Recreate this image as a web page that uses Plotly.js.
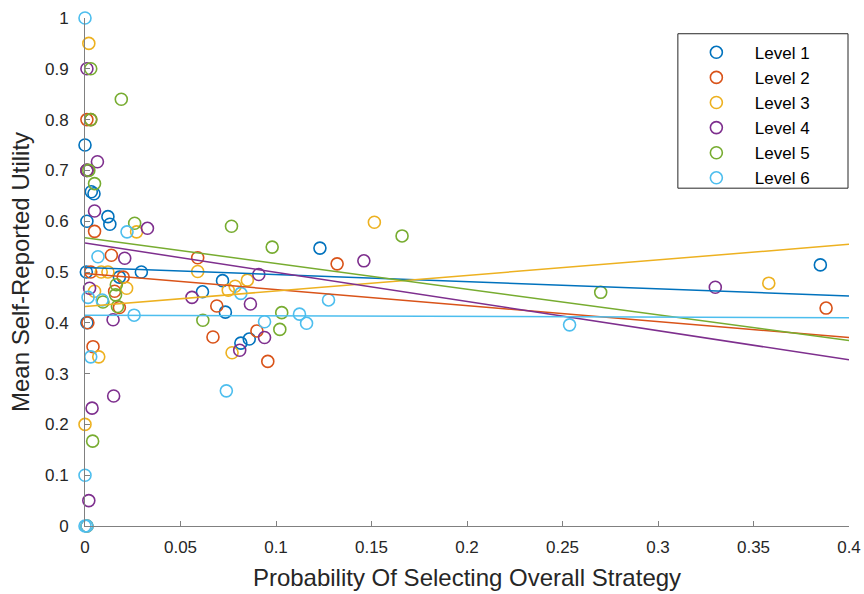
<!DOCTYPE html>
<html>
<head>
<meta charset="utf-8">
<script src="https://cdn.plot.ly/plotly-3.0.1.min.js"></script>
<style>html,body{margin:0;padding:0;background:#fff;}#chart{width:864px;height:594px;}</style>
</head>
<body>
<div id="chart"></div>
<script>
// Data
const levelNames = ["Level 1", "Level 2", "Level 3", "Level 4", "Level 5", "Level 6"];
const levelColors = ["#0072BD", "#D95319", "#EDB120", "#7E2F8E", "#77AC30", "#4DBEEE"];

const x1 = [0, 0.001, 0.0033, 0.0047, 0.001, 0.012, 0.013, 0.0007, 0.0295, 0.018, 0.0615, 0.072, 0.0735, 0.0816, 0.086, 0.123, 0.385, 0.001, 0.001];
const y1 = [0.75, 0.70, 0.658, 0.654, 0.60, 0.609, 0.594, 0.50, 0.50, 0.49, 0.461, 0.483, 0.421, 0.360, 0.368, 0.547, 0.514, 0.40, 0];

const x2 = [0.001, 0.003, 0.001, 0.0015, 0.005, 0.0138, 0.0042, 0.0155, 0.018, 0.059, 0.069, 0.067, 0.090, 0.0957, 0.132, 0.388, 0.003, 0.02];
const y2 = [0.80, 0.80, 0.70, 0.40, 0.58, 0.533, 0.353, 0.462, 0.43, 0.528, 0.433, 0.372, 0.384, 0.324, 0.516, 0.429, 0.50, 0.49];

const x3 = [0.002, 0.0, 0.0072, 0.059, 0.075, 0.0786, 0.085, 0.077, 0.1515, 0.358, 0.027, 0.0218, 0.005, 0.0085, 0.012, 0.001];
const y3 = [0.95, 0.20, 0.333, 0.501, 0.464, 0.472, 0.484, 0.341, 0.598, 0.478, 0.579, 0.468, 0.462, 0.50, 0.50, 0];

const x4 = [0.001, 0.0065, 0.001, 0.005, 0.0024, 0.0037, 0.002, 0.015, 0.0208, 0.0327, 0.056, 0.0866, 0.091, 0.094, 0.081, 0.146, 0.330, 0.0147];
const y4 = [0.90, 0.717, 0.70, 0.62, 0.468, 0.232, 0.05, 0.256, 0.527, 0.586, 0.45, 0.437, 0.495, 0.371, 0.346, 0.522, 0.47, 0.406];

const x5 = [0.003, 0.019, 0.003, 0.002, 0.005, 0.004, 0.026, 0.0767, 0.098, 0.0617, 0.103, 0.102, 0.166, 0.270, 0.0094, 0.0164, 0.017, 0.016];
const y5 = [0.90, 0.84, 0.80, 0.70, 0.674, 0.167, 0.596, 0.59, 0.549, 0.405, 0.42, 0.387, 0.571, 0.46, 0.441, 0.475, 0.432, 0.455];

const x6 = [0, 0, 0, 0.0068, 0.022, 0.009, 0.003, 0.0257, 0.074, 0.0816, 0.094, 0.1123, 0.116, 0.1275, 0.2537, 0.0016, 0.001];
const y6 = [1.0, 0, 0.1, 0.53, 0.579, 0.445, 0.333, 0.415, 0.266, 0.458, 0.402, 0.417, 0.399, 0.445, 0.396, 0.45, 0.0];

// Linear fit coefficients (intercept, slope)
const fitIntercepts = [0.509, 0.497, 0.432, 0.557, 0.5675, 0.415];
const fitSlopes = [-0.14, -0.315, 0.306, -0.575, -0.506, -0.0125];

const xTicks = [0, 0.05, 0.1, 0.15, 0.2, 0.25, 0.3, 0.35, 0.4];
const yTicks = [0, 0.1, 0.2, 0.3, 0.4, 0.5, 0.6, 0.7, 0.8, 0.9, 1];
const xRange = [0, 0.4];
const yRange = [0, 1];

const xs = [x1, x2, x3, x4, x5, x6];
const ys = [y1, y2, y3, y4, y5, y6];

const traces = [];
for (let i = 0; i < 6; i++) {
  traces.push({
    type: "scatter", mode: "markers", name: levelNames[i],
    x: xs[i], y: ys[i], cliponaxis: false,
    marker: {symbol: "circle-open", size: 12, color: levelColors[i], line: {width: 1.6, color: levelColors[i]}},
    showlegend: true
  });
}
for (let i = 0; i < 6; i++) {
  const lx = [xRange[0], xRange[1]];
  const ly = lx.map(v => fitIntercepts[i] + fitSlopes[i] * v);
  traces.push({
    type: "scatter", mode: "lines", x: lx, y: ly, showlegend: false, hoverinfo: "skip",
    line: {color: levelColors[i], width: 1.5}
  });
}

const fam = "Liberation Sans, Arial, sans-serif";
const axisFont = {family: fam, size: 17, color: "#262626"};
const layout = {
  width: 864, height: 594,
  margin: {l: 85, r: 15, t: 18, b: 68},
  paper_bgcolor: "#fff", plot_bgcolor: "#fff",
  font: {family: fam, color: "#262626"},
  xaxis: {
    range: xRange, tickvals: xTicks, ticks: "inside", ticklen: 5, tickcolor: "#808080",
    showline: true, linecolor: "#808080", linewidth: 1, showgrid: false, zeroline: false,
    tickfont: axisFont, ticklabelstandoff: 6,
    title: {text: "Probability Of Selecting Overall Strategy", font: {family: fam, size: 24, color: "#262626"}, standoff: 12}
  },
  yaxis: {
    range: yRange, tickvals: yTicks, ticks: "inside", ticklen: 5, tickcolor: "#808080",
    showline: true, linecolor: "#808080", linewidth: 1, showgrid: false, zeroline: false,
    tickfont: axisFont, ticklabelstandoff: 12,
    title: {text: "Mean Self-Reported Utility", font: {family: fam, size: 24, color: "#262626"}, standoff: 8}
  },
  shapes: [{
    type: "rect", xref: "paper", yref: "paper",
    x0: 0.776, x1: 0.9987, y0: 0.665, y1: 0.969,
    line: {color: "#262626", width: 1}, fillcolor: "#fff", layer: "below"
  }],
  legend: {
    x: 0.776, y: 0.967, xanchor: "left", yanchor: "top",
    borderwidth: 0, bgcolor: "rgba(0,0,0,0)",
    font: {family: fam, size: 17, color: "#000"},
    itemwidth: 67, tracegroupgap: 0
  },
  showlegend: true
};

Plotly.newPlot("chart", traces, layout, {displayModeBar: false, staticPlot: true});
</script>
</body>
</html>
